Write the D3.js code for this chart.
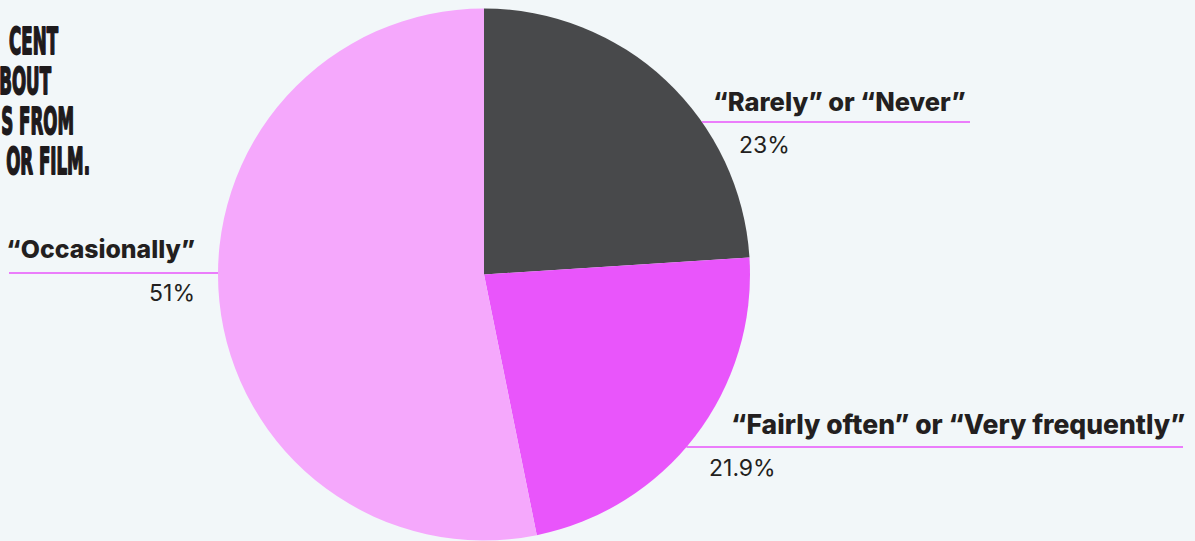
<!DOCTYPE html>
<html>
<head>
<meta charset="utf-8">
<script src="https://cdn.jsdelivr.net/npm/d3@7/dist/d3.min.js"></script>
<style>
  html, body { margin: 0; padding: 0; background: #f2f7f9; }
  svg { display: block; }
</style>
</head>
<body>
<svg id="chart" width="1195" height="541"></svg>
<script>
// Survey answers, in drawing order (clockwise from 12 o'clock)
const categories = ["“Rarely” or “Never”", "“Fairly often” or “Very frequently”", "“Occasionally”"];
const values = [23, 21.9, 51];
const valueLabels = ["23%", "21.9%", "51%"];
const colors = ["#48494b", "#e955fb", "#f5a8fc"];
const titleLines = ["CENT", "BOUT", "S FROM", "OR FILM."];

const W = 1195, H = 541;
const cx = 484, cy = 274.5, R = 266;

// Callout placement for each slice: rule height, text anchor, rule extent
const callouts = [
  { ruleY: 122, anchor: "start", textX: 713, valueX: 739, ruleEnd: 970,  textDy: -11.5, valueDy: 30.5, size: 25.5 },
  { ruleY: 447, anchor: "start", textX: 731, valueX: 709, ruleEnd: 1183, textDy: -13,   valueDy: 29,   size: 26.5 },
  { ruleY: 273, anchor: "end",   textX: 195, valueX: 195, ruleEnd: 9,    textDy: -15,   valueDy: 28,   size: 24.8 }
];

const svg = d3.select("#chart");
svg.append("rect").attr("width", W).attr("height", H).attr("fill", "#f2f7f9");

// Title block, right-aligned against the left margin
const titleRight = [58, 51, 74, 90];
const title = svg.append("g");
title.selectAll("text")
  .data(titleLines)
  .join("text")
  .attr("transform", (d, i) => `translate(${titleRight[i]},${54 + i * 40}) scale(0.5,1)`)
  .attr("text-anchor", "end")
  .attr("font-family", "'Liberation Sans Narrow', 'DejaVu Sans Condensed', sans-serif")
  .attr("font-weight", 700)
  .attr("font-size", 37)
  .attr("fill", "#1e1a1c")
  .attr("stroke", "#1e1a1c")
  .attr("stroke-width", 1.8)
  .attr("stroke-linejoin", "round")
  .text(d => d);

// Pie
const pie = d3.pie().sort(null).value(d => d);
const arc = d3.arc().innerRadius(0).outerRadius(R);
const arcs = pie(values);

const g = svg.append("g").attr("transform", `translate(${cx},${cy})`);
g.selectAll("path")
  .data(arcs)
  .join("path")
  .attr("d", arc)
  .attr("fill", (d, i) => colors[i]);

// Callouts: rule from the pie rim outward, bold category above, value below
const pieEdgeX = (y, side) => {
  const dy = y - cy;
  const dx = Math.sqrt(Math.max(0, R * R - dy * dy));
  return side === "start" ? cx + dx : cx - dx;
};

callouts.forEach((c, i) => {
  svg.append("line")
    .attr("x1", pieEdgeX(c.ruleY, c.anchor))
    .attr("x2", c.ruleEnd)
    .attr("y1", c.ruleY)
    .attr("y2", c.ruleY)
    .attr("stroke", "#e955fb")
    .attr("stroke-width", 1.5);

  svg.append("text")
    .attr("x", c.textX)
    .attr("y", c.ruleY + c.textDy)
    .attr("text-anchor", c.anchor)
    .attr("font-family", "Inter, 'Noto Sans', sans-serif")
    .attr("font-weight", 800)
    .attr("font-size", c.size)
    .attr("fill", "#231f20")
    .text(categories[i]);

  svg.append("text")
    .attr("x", c.valueX)
    .attr("y", c.ruleY + c.valueDy)
    .attr("text-anchor", c.anchor)
    .attr("font-family", "Inter, 'Noto Sans', sans-serif")
    .attr("font-weight", 400)
    .attr("font-size", 23)
    .attr("fill", "#231f20")
    .text(valueLabels[i]);
});
</script>
</body>
</html>
